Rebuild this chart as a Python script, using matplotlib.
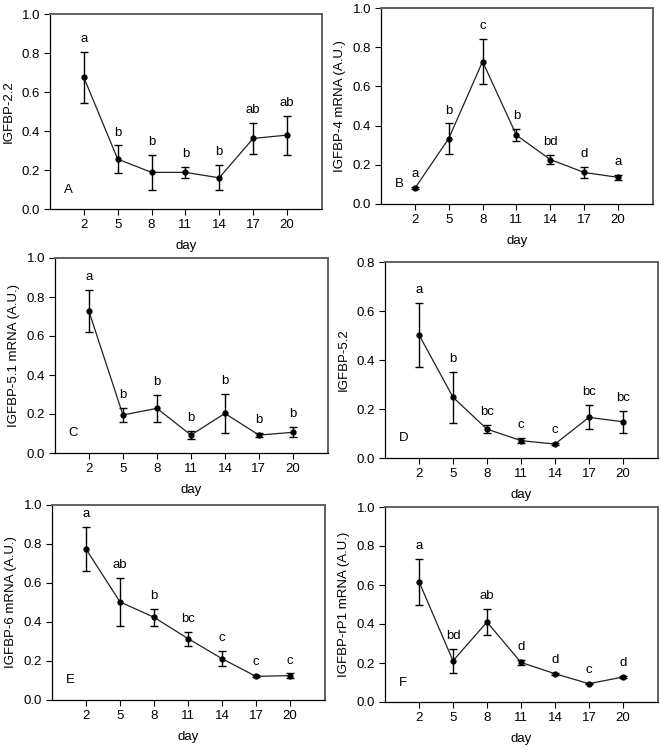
import numpy as np
import matplotlib.pyplot as plt

plt.rcParams['font.family'] = ['Liberation Sans', 'DejaVu Sans']

days = [2, 5, 8, 11, 14, 17, 20]

# panel A: IGFBP-2.2
a_mean = [0.675, 0.256, 0.188, 0.188, 0.160, 0.362, 0.379]
a_err = [0.13, 0.07, 0.09, 0.03, 0.065, 0.08, 0.10]
a_let = ['a', 'b', 'b', 'b', 'b', 'ab', 'ab']

# panel B: IGFBP-4
b_mean = [0.080, 0.334, 0.727, 0.351, 0.227, 0.161, 0.136]
b_err = [0.005, 0.077, 0.113, 0.030, 0.025, 0.026, 0.013]
b_let = ['a', 'b', 'c', 'b', 'bd', 'd', 'a']

# panel C: IGFBP-5.1
c_mean = [0.726, 0.195, 0.229, 0.092, 0.203, 0.092, 0.106]
c_err = [0.108, 0.035, 0.070, 0.022, 0.100, 0.010, 0.026]
c_let = ['a', 'b', 'b', 'b', 'b', 'b', 'b']

# panel D: IGFBP-5.2
d_mean = [0.503, 0.248, 0.118, 0.071, 0.057, 0.166, 0.148]
d_err = [0.13, 0.105, 0.016, 0.010, 0.004, 0.049, 0.046]
d_let = ['a', 'b', 'bc', 'c', 'c', 'bc', 'bc']

# panel E: IGFBP-6
e_mean = [0.774, 0.503, 0.424, 0.315, 0.212, 0.121, 0.125]
e_err = [0.113, 0.122, 0.043, 0.036, 0.040, 0.005, 0.011]
e_let = ['a', 'ab', 'b', 'bc', 'c', 'c', 'c']

# panel F: IGFBP-rP1
f_mean = [0.617, 0.211, 0.410, 0.203, 0.145, 0.094, 0.128]
f_err = [0.117, 0.063, 0.066, 0.013, 0.005, 0.003, 0.005]
f_let = ['a', 'bd', 'ab', 'd', 'd', 'c', 'd']

panels = [
    # rect, mean, err, letters, ylabel, tag, ymax
    ([0.0756, 0.7213, 0.4115, 0.260], a_mean, a_err, a_let, 'IGFBP-2.2', 'A', 1.0),
    ([0.5764, 0.7280, 0.4115, 0.2613], b_mean, b_err, b_let, 'IGFBP-4 mRNA (A.U.)', 'B', 1.0),
    ([0.0832, 0.3960, 0.4130, 0.260], c_mean, c_err, c_let, 'IGFBP-5.1 mRNA (A.U.)', 'C', 1.0),
    ([0.5825, 0.3893, 0.4130, 0.2613], d_mean, d_err, d_let, 'IGFBP-5.2', 'D', 0.8),
    ([0.0787, 0.0667, 0.4130, 0.260], e_mean, e_err, e_let, 'IGFBP-6 mRNA (A.U.)', 'E', 1.0),
    ([0.5825, 0.0640, 0.4130, 0.260], f_mean, f_err, f_let, 'IGFBP-rP1 mRNA (A.U.)', 'F', 1.0),
]

fig = plt.figure(figsize=(6.61, 7.5), dpi=100)

fs = 9.5
for rect, mean, err, lets, ylab, tag, ymax in panels:
    ax = fig.add_axes(rect)
    ax.errorbar(days, mean, yerr=err, color='#202020', lw=0.9, marker='o', ms=3.5,
                mfc='black', mec='black', ecolor='black', elinewidth=1.0,
                capsize=3, capthick=1.0)
    for d, m, e, l in zip(days, mean, err, lets):
        ax.annotate(l, (d, m + e), xytext=(0, 5), textcoords='offset points',
                    ha='center', va='bottom', fontsize=fs)
    ax.text(0.05, 0.1, tag, transform=ax.transAxes, fontsize=fs, va='center')
    ax.set_xlim(-1, 23.1)
    ax.set_ylim(0, ymax)
    ax.set_xticks(days)
    ax.set_yticks(np.arange(0, ymax + 0.01, 0.2))
    ax.set_yticklabels(['%.1f' % v for v in np.arange(0, ymax + 0.01, 0.2)])
    ax.tick_params(direction='out', length=4, width=0.8, labelsize=fs, pad=3)
    ax.set_xlabel('day', fontsize=fs, labelpad=7)
    ax.set_ylabel(ylab, fontsize=fs, labelpad=5)
    for s in ['left', 'bottom']:
        ax.spines[s].set_color('black')
        ax.spines[s].set_linewidth(0.9)
    for s in ['top', 'right']:
        ax.spines[s].set_color('#606060')
        ax.spines[s].set_linewidth(1.4)

plt.savefig('out.png', dpi=100)
